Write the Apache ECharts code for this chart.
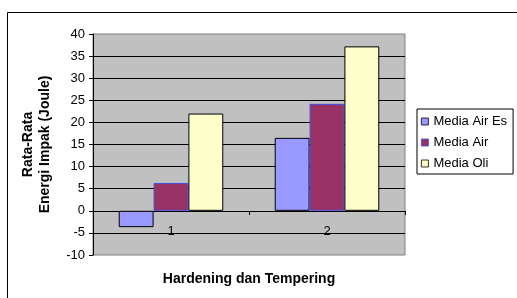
<!DOCTYPE html>
<html>
<head>
<meta charset="utf-8">
<script src="https://cdn.jsdelivr.net/npm/echarts@6/dist/echarts.min.js"></script>
<style>
  html, body { margin: 0; padding: 0; background: #fff; }
  #chart { width: 517px; height: 298px; }
</style>
</head>
<body>
<div id="chart"></div>
<script>
  // data
  const categories = ['1', '2']
  const mediaAirEs = [-3.7, 16.5]
  const mediaAir = [6.3, 24.2]
  const mediaOli = [22, 37.2]
  const seriesNames = ['Media Air Es', 'Media Air', 'Media Oli']

  const font = 'Liberation Sans, Arial, sans-serif'

  const chart = echarts.init(document.getElementById('chart'))
  chart.setOption({
    animation: false,
    textStyle: { fontFamily: font, color: '#000' },
    graphic: [
      {
        type: 'rect',
        shape: { x: 7.5, y: 12.5, width: 600, height: 400 },
        style: { fill: 'none', stroke: '#000', lineWidth: 1 },
        silent: true,
      },
    ],
    grid: [
      {
        left: 93,
        right: 112,
        top: 34,
        bottom: 43,
        outerBoundsMode: 'none',
        containLabel: false,
        show: true,
        backgroundColor: '#C0C0C0',
        borderColor: '#808080',
        borderWidth: 1,
      },
      // upper part only: its bottom edge is the zero line, carries the category axis
      {
        left: 93,
        right: 112,
        top: 34,
        bottom: 87,
        outerBoundsMode: 'none',
        containLabel: false,
        show: false,
      },
    ],
    legend: {
      orient: 'vertical',
      left: 417,
      top: 109,
      padding: [6, 6, 4, 4],
      itemGap: 8,
      itemWidth: 7,
      itemHeight: 7,
      icon: 'rect',
      itemStyle: { borderWidth: 0.8 },
      backgroundColor: '#fff',
      borderColor: '#000',
      borderWidth: 1,
      borderRadius: 0,
      textStyle: { fontSize: 13, color: '#000', fontFamily: font },
      data: seriesNames,
    },
    xAxis: [
      {
        type: 'category',
        gridIndex: 0,
        data: categories,
        name: 'Hardening dan Tempering',
        nameLocation: 'middle',
        nameGap: 17,
        nameTextStyle: { fontSize: 14, fontWeight: 'bold' },
        axisLine: { show: false },
        axisTick: { show: false },
        axisLabel: { show: false },
        splitLine: { show: false },
      },
      {
        type: 'category',
        gridIndex: 1,
        data: categories,
        axisLine: { show: true, onZero: false, lineStyle: { color: '#000', width: 1 } },
        axisTick: { show: true, length: 4, lineStyle: { color: '#000' } },
        axisLabel: { fontSize: 13, color: '#000', margin: 14 },
        splitLine: { show: false },
      },
    ],
    yAxis: [
      {
        type: 'value',
        gridIndex: 0,
        min: -10,
        max: 40,
        interval: 5,
        name: 'Rata-Rata\nEnergi Impak (Joule)',
        nameLocation: 'middle',
        nameGap: 39,
        nameTextStyle: { fontSize: 14, fontWeight: 'bold', lineHeight: 17 },
        axisLine: { show: true, lineStyle: { color: '#000', width: 1 } },
        axisTick: { show: true, length: 4, lineStyle: { color: '#000' } },
        axisLabel: { fontSize: 13, color: '#000', margin: 8 },
        splitLine: {
          show: true,
          showMinLine: false,
          showMaxLine: false,
          lineStyle: { color: '#000', width: 1 },
        },
      },
      {
        type: 'value',
        gridIndex: 1,
        min: 0,
        max: 40,
        show: false,
      },
    ],
    series: [
      {
        name: seriesNames[0],
        type: 'bar',
        data: mediaAirEs,
        barGap: 0,
        barCategoryGap: '33%',
        itemStyle: { color: '#9999FF', borderColor: '#000', borderWidth: 1 },
      },
      {
        name: seriesNames[1],
        type: 'bar',
        data: mediaAir,
        barGap: 0,
        barCategoryGap: '33%',
        itemStyle: { color: '#993366', borderColor: '#3F4FE0', borderWidth: 1 },
      },
      {
        name: seriesNames[2],
        type: 'bar',
        data: mediaOli,
        barGap: 0,
        barCategoryGap: '33%',
        itemStyle: { color: '#FFFFCC', borderColor: '#000', borderWidth: 1 },
      },
    ],
  })
</script>
</body>
</html>
